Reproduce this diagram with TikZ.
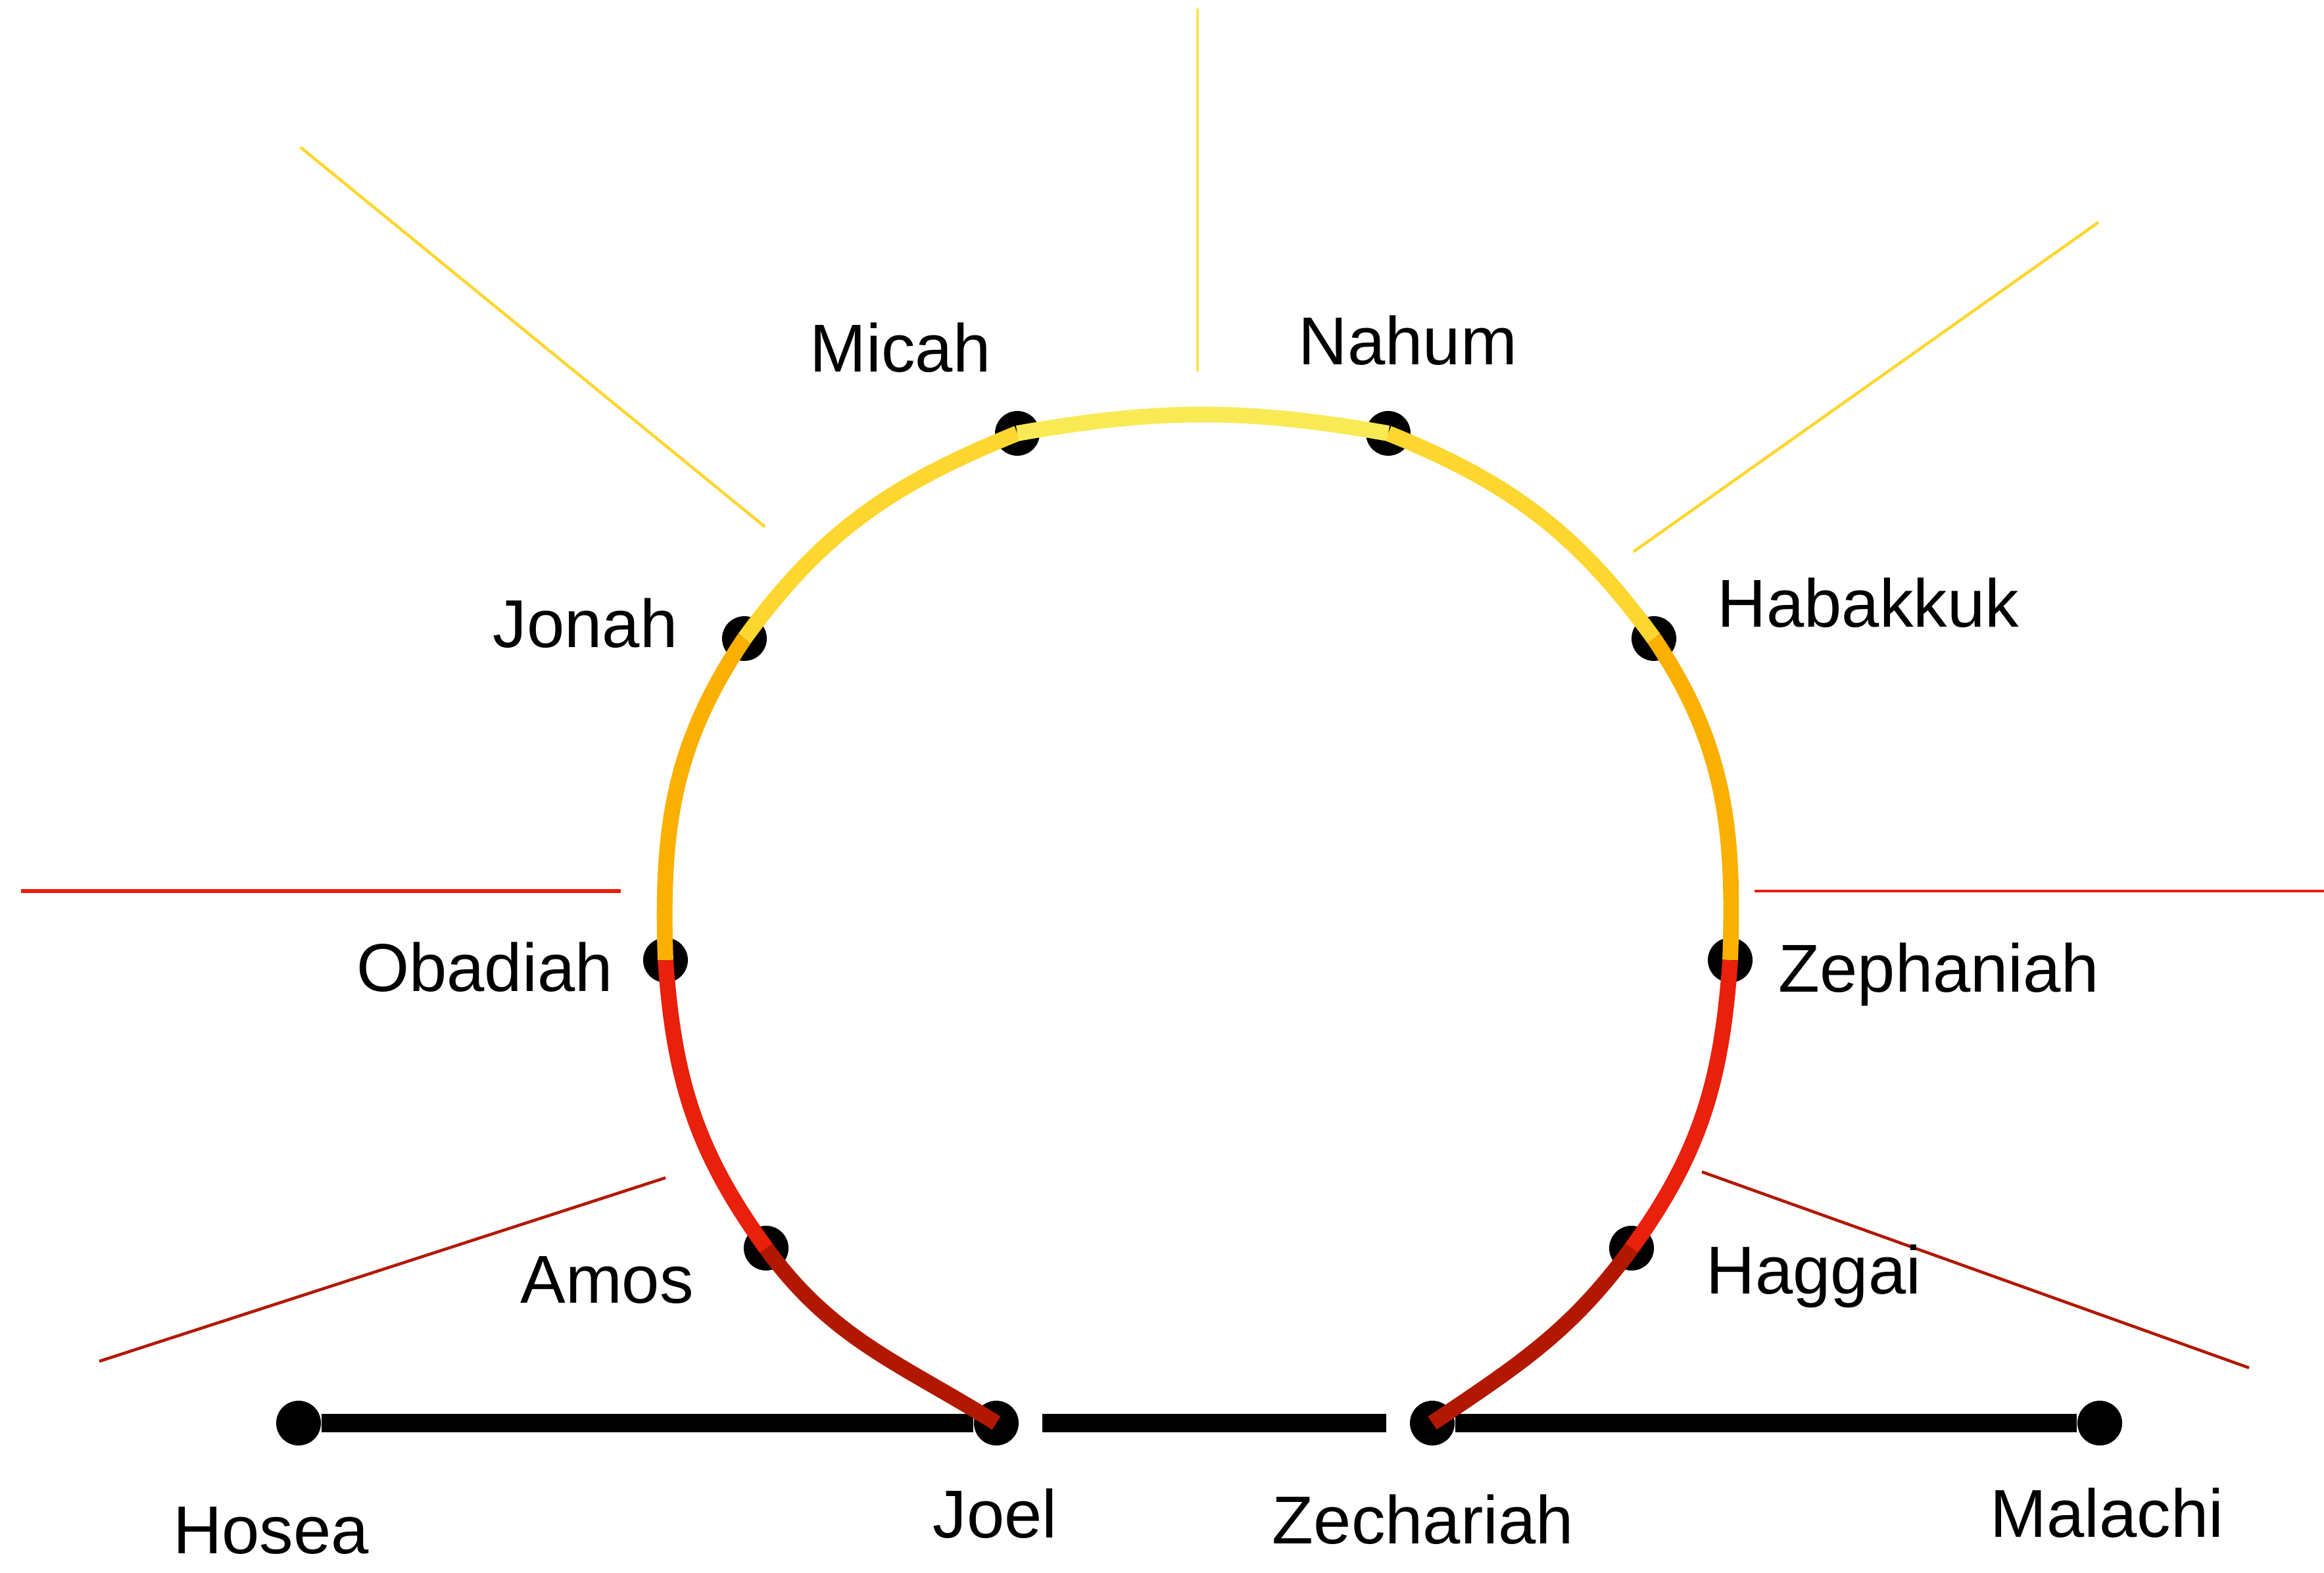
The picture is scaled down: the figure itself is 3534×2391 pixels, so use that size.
\documentclass[tikz,border=0pt]{standalone}
\usepackage{fontspec}
\setmainfont{Liberation Sans}
\definecolor{dkred}{HTML}{B21800}
\definecolor{redA}{HTML}{E8200C}
\definecolor{orng}{HTML}{F9B000}
\definecolor{goldA}{HTML}{FED630}
\definecolor{lyel}{HTML}{F9EA55}
\begin{document}
\begin{tikzpicture}[x=0.01cm,y=0.01cm,
  dot/.style={circle,fill=black,inner sep=0pt,minimum size=0.68cm},
  lbl/.style={anchor=base,inner sep=0pt,font=\fontsize{29.3pt}{35pt}\selectfont},
  arcseg/.style={line width=6.8pt,line cap=butt},
  baseln/.style={line width=7.7pt,black},
  ray/.style={line width=1.3pt}]
\useasboundingbox (0,0) rectangle (3534,-2391);
% ray end points
\coordinate (rT1) at (1821,-13);   \coordinate (rT2) at (1821,-565);
\coordinate (rUL1) at (457,-224);  \coordinate (rUL2) at (1163,-801);
\coordinate (rUR1) at (3191,-338); \coordinate (rUR2) at (2484,-839);
\coordinate (rL1) at (32,-1355);   \coordinate (rL2) at (944,-1355);
\coordinate (rR1) at (2668,-1355); \coordinate (rR2) at (3534,-1355);
\coordinate (rLL1) at (151,-2070); \coordinate (rLL2) at (1012,-1791);
\coordinate (rLR1) at (2588,-1782);\coordinate (rLR2) at (3420,-2080);
\draw[ray,lyel!80!goldA,line width=0.9pt] (rT1) -- (rT2);
\draw[ray,goldA] (rUL1) -- (rUL2);
\draw[ray,goldA] (rUR1) -- (rUR2);
\draw[ray,redA,line width=1.8pt] (rL1) -- (rL2);
\draw[ray,redA] (rR1) -- (rR2);
\draw[ray,dkred] (rLL1) -- (rLL2);
\draw[ray,dkred] (rLR1) -- (rLR2);
% dots
\node[dot] (hosea) at (454,-2164) {};
\node[dot] (joel) at (1515,-2164) {};
\node[dot] (zech) at (2178,-2164) {};
\node[dot] (malachi) at (3193,-2164) {};
\node[dot] (amos) at (1165,-1898) {};
\node[dot] (obadiah) at (1012,-1460) {};
\node[dot] (jonah) at (1132,-971) {};
\node[dot] (micah) at (1547,-659) {};
\node[dot] (nahum) at (2111,-659) {};
\node[dot] (habakkuk) at (2515,-971) {};
\node[dot] (zephaniah) at (2631,-1460) {};
\node[dot] (haggai) at (2481,-1898) {};
% baseline
\draw[baseln] (hosea) -- (joel);
\draw[baseln,shorten >=0.35cm,shorten <=0.35cm] (joel) -- (zech);
\draw[baseln] (zech) -- (malachi);
% arc
\draw[arcseg,dkred] (joel.center) to[out=148,in=-54] (amos.center);
\draw[arcseg,redA] (amos.center) to[out=126,in=-86] (obadiah.center);
\draw[arcseg,orng] (obadiah.center) to[out=92,in=236] (jonah.center);
\draw[arcseg,goldA] (jonah.center) to[out=54,in=202] (micah.center);
\draw[arcseg,lyel] (micah.center) to[out=10,in=170] (nahum.center);
\draw[arcseg,goldA] (nahum.center) to[out=-22,in=126] (habakkuk.center);
\draw[arcseg,orng] (habakkuk.center) to[out=-56,in=88] (zephaniah.center);
\draw[arcseg,redA] (zephaniah.center) to[out=-94,in=54] (haggai.center);
\draw[arcseg,dkred] (haggai.center) to[out=-126,in=34] (zech.center);
% labels
\node[lbl] (tMicah) at (1369,-565) {Micah};
\node[lbl] (tNahum) at (2141,-554) {Nahum};
\node[lbl] (tJonah) at (890,-984) {Jonah};
\node[lbl] (tHabakkuk) at (2841,-953) {Habakkuk};
\node[lbl] (tObadiah) at (737,-1507) {Obadiah};
\node[lbl] (tZephaniah) at (2948,-1508) {Zephaniah};
\node[lbl] (tAmos) at (923,-1981) {Amos};
\node[lbl] (tHaggai) at (2758,-1967) {Haggai};
\node[lbl] (tHosea) at (412,-2362) {Hosea};
\node[lbl] (tJoel) at (1513,-2338) {Joel};
\node[lbl] (tZech) at (2164,-2347) {Zechariah};
\node[lbl] (tMalachi) at (3204,-2337) {Malachi};
\end{tikzpicture}
\end{document}
